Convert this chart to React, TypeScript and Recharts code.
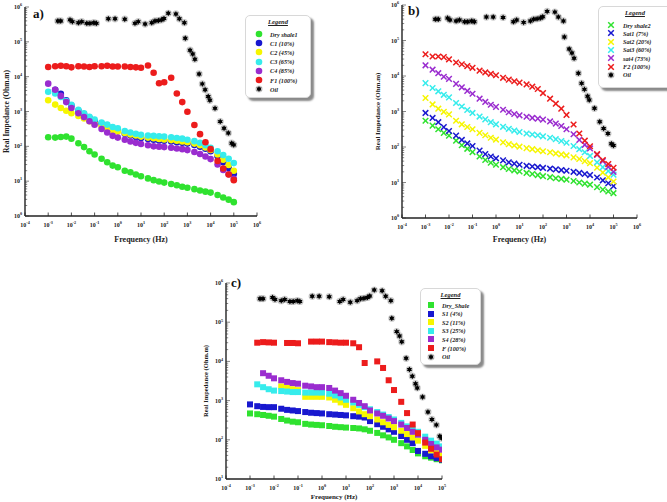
import React from 'react';
import { ScatterChart, Scatter, XAxis, YAxis, Label } from 'recharts';

// Shared frequency grid (Hz) for the core measurements
const FREQ = [
  0.001, 0.002, 0.0035, 0.006, 0.01, 0.02, 0.035, 0.06, 0.1, 0.2, 0.35, 0.6,
  1, 2, 3.5, 6, 10, 20, 35, 60, 100, 200, 350, 600,
  1000, 2000, 3500, 6000, 10000, 20000, 35000, 60000, 100000,
];

// a) first core set (Ohm.m)
const DRY_SHALE1 = [182, 178, 186, 190, 166, 123, 95, 72, 58, 44, 35, 28, 25, 20, 18, 15.5, 13.8, 12, 10.7, 9.8, 9.1, 8.3, 7.6, 6.9, 6.5, 5.9, 5.4, 5.0, 4.7, 4.0, 3.4, 2.95, 2.5];
const C1 = [null, 4200, 3200, 2100, 1480, 1050, 850, 660, 525, 440, 380, 330, 295, 230, 205, 186, 174, 162, 155, 148, 145, 138, 132, 126, 120, 110, 98, 85, 72, 52, 35, 24, 16];
const C2 = [2100, 1580, 1260, 1050, 890, 740, 630, 525, 445, 380, 330, 295, 265, 240, 220, 205, 190, 178, 170, 162, 158, 151, 145, 138, 132, 120, 107, 93, 79, 58, 41, 29, 20];
const C3 = [3700, 3300, 2600, 2000, 1550, 1120, 890, 710, 590, 480, 420, 360, 330, 275, 250, 230, 215, 205, 200, 195, 190, 182, 174, 166, 155, 141, 126, 107, 91, 72, 56, 44, 33];
const C4 = [6300, 4200, 2800, 1860, 1260, 890, 690, 525, 415, 315, 250, 200, 178, 155, 138, 126, 117, 107, 100, 98, 95, 91, 87, 83, 78, 69, 60, 51, 43, 30, 21, 15.8, 11.7];
const F1 = [19000, 20000, 20500, 20000, 18500, 20000, 19500, 19000, 20000, 20000, 20500, 19500, 19500, 19500, 19000, 18500, 18000, 21000, 13000, 6500, 6900, 9300, 3300, 1860, 980, 410, 224, 131, 83, 38, 23, 15.5, 10.7];

// b) second core set
const DRY_SHALE2 = [550, 400, 316, 250, 209, 151, 112, 89, 72, 54, 43, 36, 31.6, 27, 24, 22, 20.4, 18.6, 17.4, 16.2, 15.1, 14.1, 13.2, 12.6, 12, 11, 10, 9.3, 8.7, 7.4, 6.3, 5.6, 5.0];
const SAT1 = [910, 660, 500, 363, 282, 209, 158, 126, 107, 79, 63, 54, 48, 42, 37, 34, 31.6, 29.5, 28.2, 27, 25.7, 24.5, 23.4, 22.4, 21.4, 20, 18.6, 17.4, 16.2, 13.8, 11.5, 9.5, 7.9];
const SAT2 = [2400, 1580, 1200, 980, 830, 550, 435, 365, 316, 250, 214, 182, 162, 135, 120, 110, 102, 93, 87, 81, 76, 71, 66, 62, 58, 51, 46, 40, 35, 26, 19, 14, 10.7];
const SAT3 = [6300, 4600, 3700, 2950, 2500, 1740, 1380, 1100, 910, 720, 600, 500, 435, 370, 325, 290, 265, 240, 225, 214, 200, 182, 166, 148, 132, 107, 87, 71, 56, 37, 27, 21, 16.6];
const SAT4 = [20000, 15100, 12000, 9500, 8300, 6000, 4800, 3800, 3160, 2300, 1860, 1550, 1350, 1120, 955, 850, 780, 710, 660, 630, 590, 525, 457, 390, 316, 229, 158, 115, 91, 60, 40, 27.5, 20];
const F2 = [41000, 35500, 35500, 34000, 29500, 24000, 21400, 19000, 17000, 14100, 12600, 11500, 10500, 8900, 7900, 7100, 6500, 5800, 5000, 4300, 3300, 2300, 1660, 1200, 800, 430, 240, 151, 105, 63, 43, 33, 26];

// c) third core set
const DRY_SHALE = [470, 450, 430, 410, 390, 340, 310, 290, 280, 255, 245, 240, 235, 225, 215, 210, 205, 200, 195, 185, 170, 150, 130, 115, 100, 82, 68, 55, 45, 38, 35, 32, 30];
const S1 = [800, 720, 690, 680, 680, 620, 580, 560, 540, 510, 490, 480, 470, 450, 440, 430, 420, 400, 390, 370, 300, 250, 215, 185, 160, 125, 100, 82, 52, 44, 38, 34, 31];
const S2 = [null, null, null, null, null, 2300, 2100, 1950, 1850, 1250, 1250, 1250, 1250, 1200, 1050, 900, 780, 640, 530, 450, 400, 330, 280, 240, 210, 170, 140, 115, 95, 70, 54, 46, 40];
const S3 = [null, 2600, 2200, 1950, 1800, 1750, 1700, 1650, 1650, 1600, 1600, 1600, 1600, 1500, 1350, 1200, 1050, 900, 780, 680, 600, 510, 440, 380, 330, 270, 220, 185, 160, 120, 95, 80, 68];
const S4 = [null, null, 5000, 4300, 3700, 3300, 3000, 2800, 2700, 2400, 2300, 2200, 2200, 2100, 1800, 1550, 1330, 1050, 870, 720, 560, 470, 410, 350, 300, 245, 200, 160, 135, 100, 78, 64, 56];
const F = [null, 30000, 31000, 30500, 30000, null, 29500, 29500, 29000, null, 32000, 32000, 32000, 31000, 30500, 30000, 30000, 29000, 23000, 9100, null, 10000, 6800, 3300, 1860, 930, 480, 245, 148, 85, 59, 42, 32];

// Oil reference, same in every panel
const OIL_FREQ = [0.0026, 0.0035, 0.0087, 0.011, 0.02, 0.028, 0.046, 0.063, 0.093, 0.12, 0.39, 0.76, 2.0, 5.5, 7.6, 15, 29, 40, 56, 78, 98, 150, 320, 450, 740, 810, 1300, 1700, 2100, 3200, 4400, 5800, 7900, 9300, 15500, 26000, 38000, 58000, 81000, 100000];
const OIL_Z = [398000, 398000, 427000, 380000, 355000, 380000, 339000, 339000, 355000, 339000, 457000, 457000, 447000, 339000, 380000, 324000, 355000, 398000, 407000, 427000, 468000, 661000, 631000, 457000, 355000, 126000, 57500, 44700, 31600, 12000, 6200, 4200, 2700, 2100, 1230, 513, 331, 240, 123, 110];

const X_DECADES_AB = [1e-4, 1e-3, 1e-2, 1e-1, 1, 10, 100, 1e3, 1e4, 1e5, 1e6];
const X_DECADES_C = [1e-4, 1e-3, 1e-2, 1e-1, 1, 10, 100, 1e3, 1e4, 1e5];
const Y_DECADES_AB = [1, 10, 100, 1e3, 1e4, 1e5, 1e6];
const Y_DECADES_C = [10, 100, 1e3, 1e4, 1e5, 1e6];

const COLORS = {
  green: '#2fe22f',
  blue: '#1818cf',
  yellow: '#f6f600',
  cyan: '#36ecec',
  purple: '#9a2ccf',
  red: '#ec1c1c',
};

const SERIF = '"Liberation Serif", "DejaVu Serif", serif';

type Marker = 'circle' | 'cross' | 'square';
type Series = { name: string; color: string; values: (number | null)[] };

const toPoints = (freq: number[], vals: (number | null)[]) =>
  freq.map((f, i) => ({ f, z: vals[i] })).filter((p) => p.z != null);

const withMinors = (decades: number[]) => {
  const out: number[] = [];
  decades.forEach((d, i) => {
    out.push(d);
    if (i < decades.length - 1) for (let k = 2; k < 10; k++) out.push(d * k);
  });
  return out;
};

const markerNode = (kind: Marker, color: string, cx: number, cy: number) => {
  if (kind === 'circle') return <circle cx={cx} cy={cy} r={3.3} fill={color} />;
  if (kind === 'square') return <rect x={cx - 3} y={cy - 3} width={6} height={6} fill={color} />;
  return (
    <g stroke={color} strokeWidth={1.5}>
      <line x1={cx - 2.8} y1={cy - 2.8} x2={cx + 2.8} y2={cy + 2.8} />
      <line x1={cx - 2.8} y1={cy + 2.8} x2={cx + 2.8} y2={cy - 2.8} />
    </g>
  );
};

const starPoints = (cx: number, cy: number, ro: number, ri: number, n: number) => {
  const pts: string[] = [];
  for (let i = 0; i < n * 2; i++) {
    const a = (Math.PI * i) / n - Math.PI / 2;
    const r = i % 2 ? ri : ro;
    pts.push(`${cx + r * Math.cos(a)},${cy + r * Math.sin(a)}`);
  }
  return pts.join(' ');
};

// small black burst with a soft grey halo
const oilNode = (cx: number, cy: number) => (
  <g>
    <circle cx={cx} cy={cy} r={3.6} fill="#000" opacity={0.2} />
    <polygon points={starPoints(cx, cy, 3, 1.7, 6)} fill="#000" />
  </g>
);

const Pow10 = ({ x, y, exp, anchor, fs }: any) => (
  <text x={x} y={y} textAnchor={anchor} fontFamily={SERIF} fontWeight="bold" fontSize={fs} fill="#222">
    10<tspan dy={-fs * 0.45} fontSize={fs * 0.7}>{exp}</tspan>
  </text>
);

const XTick = (props: any) => {
  const { x, y, payload } = props;
  const e = Math.round(Math.log10(payload.value));
  return (
    <g>
      <line x1={x} x2={x} y1={y} y2={y - 3.5} stroke="#222" strokeWidth={0.8} />
      <Pow10 x={x} y={y + 11} exp={e} anchor="middle" fs={6} />
    </g>
  );
};

const YTick = (props: any) => {
  const { x, y, payload } = props;
  const lg = Math.log10(payload.value);
  const e = Math.round(lg);
  const major = Math.abs(lg - e) < 1e-6;
  return (
    <g>
      <line x1={x} x2={x + (major ? 4 : 2.2)} y1={y} y2={y} stroke="#333" strokeWidth={0.6} />
      {major && <Pow10 x={x - 3} y={y + 2} exp={e} anchor="end" fs={6} />}
    </g>
  );
};

type PanelProps = {
  left: number; top: number; width: number; height: number;
  marginTop: number; marginRight: number;
  yAxisWidth: number; xAxisHeight: number;
  xDecades: number[]; yDecades: number[];
  series: Series[]; marker: Marker;
  yTitleSize: number; xTitleSize: number;
};

const Panel = (p: PanelProps) => {
  const xDomain = [p.xDecades[0], p.xDecades[p.xDecades.length - 1]];
  const yDomain = [p.yDecades[0], p.yDecades[p.yDecades.length - 1]];
  return (
    <div style={{ position: 'absolute', left: p.left, top: p.top }}>
      <ScatterChart
        width={p.width}
        height={p.height}
        margin={{ top: p.marginTop, right: p.marginRight, bottom: 0, left: 0 }}
      >
        <XAxis
          type="number" dataKey="f" scale="log" domain={xDomain} allowDataOverflow
          ticks={p.xDecades} interval={0} tickSize={0} tickMargin={0} tickLine={false}
          tick={XTick} height={p.xAxisHeight}
          axisLine={{ stroke: '#222', strokeWidth: 1.4 }}
        >
          <Label
            value="Frequency (Hz)" position="insideBottom" offset={3}
            style={{ fontFamily: SERIF, fontWeight: 'bold', fontSize: p.xTitleSize, fill: '#222' }}
          />
        </XAxis>
        <YAxis
          type="number" dataKey="z" scale="log" domain={yDomain} allowDataOverflow
          ticks={withMinors(p.yDecades)} interval={0} tickSize={0} tickMargin={0} tickLine={false}
          tick={YTick} width={p.yAxisWidth}
          axisLine={{ stroke: '#222', strokeWidth: 1.4 }}
        >
          <Label
            content={({ viewBox }: any) => (
              <text
                transform={`translate(${viewBox.x + 6},${viewBox.y + viewBox.height / 2}) rotate(-90)`}
                textAnchor="middle" dominantBaseline="central"
                fontFamily={SERIF} fontWeight="bold" fontSize={p.yTitleSize} fill="#222"
              >
                Real Impedance (Ohm.m)
              </text>
            )}
          />
        </YAxis>
        {p.series.map((s) => (
          <Scatter
            key={s.name} name={s.name} data={toPoints(FREQ, s.values)} isAnimationActive={false}
            shape={(sp: any) => markerNode(p.marker, s.color, sp.cx, sp.cy)}
          />
        ))}
        <Scatter
          name="Oil" data={toPoints(OIL_FREQ, OIL_Z)} isAnimationActive={false}
          shape={(sp: any) => oilNode(sp.cx, sp.cy)}
        />
      </ScatterChart>
    </div>
  );
};

type LegendBoxProps = {
  left: number; top: number; width: number; height: number;
  rowGap: number; series: Series[]; marker: Marker; markerX: number; textX: number; firstRow: number;
};

const LegendBox = (p: LegendBoxProps) => {
  const rows = [...p.series.map((s) => ({ name: s.name, color: s.color, oil: false })), { name: 'Oil', color: '#000', oil: true }];
  return (
    <div
      style={{
        position: 'absolute', left: p.left, top: p.top, width: p.width, height: p.height,
        background: '#fff', border: '1px solid #d8d8d8', borderRadius: 5,
        boxShadow: '3px 3px 2px #8a8a8a', fontFamily: SERIF,
      }}
    >
      <div
        style={{
          position: 'absolute', left: 0, right: 0, top: 2, textAlign: 'center',
          fontSize: 6.5, fontWeight: 'bold', fontStyle: 'italic', textDecoration: 'underline', color: '#222',
        }}
      >
        Legend
      </div>
      {rows.map((r, i) => {
        const cy = p.firstRow + i * p.rowGap;
        return (
          <React.Fragment key={r.name}>
            <svg style={{ position: 'absolute', left: p.markerX - 5, top: cy - 5 }} width={10} height={10}>
              {r.oil ? oilNode(5, 5) : markerNode(p.marker, r.color, 5, 5)}
            </svg>
            <div
              style={{
                position: 'absolute', left: p.textX, top: cy - 4.5, fontSize: 6.2, lineHeight: '9px',
                fontWeight: 'bold', fontStyle: 'italic', color: '#222', whiteSpace: 'nowrap',
              }}
            >
              {r.name}
            </div>
          </React.Fragment>
        );
      })}
    </div>
  );
};

const PanelLetter = ({ left, top, text }: { left: number; top: number; text: string }) => (
  <div style={{ position: 'absolute', left, top, fontFamily: SERIF, fontWeight: 'bold', fontSize: 13, color: '#111' }}>
    {text}
  </div>
);

const SERIES_A: Series[] = [
  { name: 'Dry shale1', color: COLORS.green, values: DRY_SHALE1 },
  { name: 'C1 (10%)', color: COLORS.blue, values: C1 },
  { name: 'C2 (45%)', color: COLORS.yellow, values: C2 },
  { name: 'C3 (65%)', color: COLORS.cyan, values: C3 },
  { name: 'C4 (85%)', color: COLORS.purple, values: C4 },
  { name: 'F1 (100%)', color: COLORS.red, values: F1 },
];

const SERIES_B: Series[] = [
  { name: 'Dry shale2', color: COLORS.green, values: DRY_SHALE2 },
  { name: 'Sat1 (7%)', color: COLORS.blue, values: SAT1 },
  { name: 'Sat2 (20%)', color: COLORS.yellow, values: SAT2 },
  { name: 'Sat3 (60%)', color: COLORS.cyan, values: SAT3 },
  { name: 'sat4 (73%)', color: COLORS.purple, values: SAT4 },
  { name: 'F2 (100%)', color: COLORS.red, values: F2 },
];

const SERIES_C: Series[] = [
  { name: 'Dry_Shale', color: COLORS.green, values: DRY_SHALE },
  { name: 'S1 (4%)', color: COLORS.blue, values: S1 },
  { name: 'S2 (11%)', color: COLORS.yellow, values: S2 },
  { name: 'S3 (25%)', color: COLORS.cyan, values: S3 },
  { name: 'S4 (28%)', color: COLORS.purple, values: S4 },
  { name: 'F (100%)', color: COLORS.red, values: F },
];

export default function App() {
  return (
    <div style={{ position: 'absolute', left: 0, top: 0, width: 667, height: 502, background: '#fff', overflow: 'hidden' }}>
      <Panel
        left={0} top={0} width={330} height={245} marginTop={7} marginRight={73}
        yAxisWidth={25} xAxisHeight={29} xDecades={X_DECADES_AB} yDecades={Y_DECADES_AB}
        series={SERIES_A} marker="circle" yTitleSize={7.5} xTitleSize={8}
      />
      <Panel
        left={372} top={0} width={295} height={245} marginTop={5} marginRight={30}
        yAxisWidth={30} xAxisHeight={27} xDecades={X_DECADES_AB} yDecades={Y_DECADES_AB}
        series={SERIES_B} marker="cross" yTitleSize={7} xTitleSize={8}
      />
      <Panel
        left={199} top={276} width={300} height={226} marginTop={7} marginRight={57}
        yAxisWidth={27} xAxisHeight={23} xDecades={X_DECADES_C} yDecades={Y_DECADES_C}
        series={SERIES_C} marker="square" yTitleSize={6.5} xTitleSize={7}
      />
      <LegendBox left={245} top={15} width={64} height={81} rowGap={9.2} firstRow={18} series={SERIES_A} marker="circle" markerX={13} textX={24} />
      <LegendBox left={598} top={6} width={72} height={80} rowGap={8.3} firstRow={18} series={SERIES_B} marker="cross" markerX={12} textX={24} />
      <LegendBox left={420} top={288} width={59} height={75} rowGap={8.6} firstRow={16} series={SERIES_C} marker="square" markerX={10} textX={21} />
      <PanelLetter left={33} top={6} text="a)" />
      <PanelLetter left={408} top={3} text="b)" />
      <PanelLetter left={231} top={275} text="c)" />
    </div>
  );
}
